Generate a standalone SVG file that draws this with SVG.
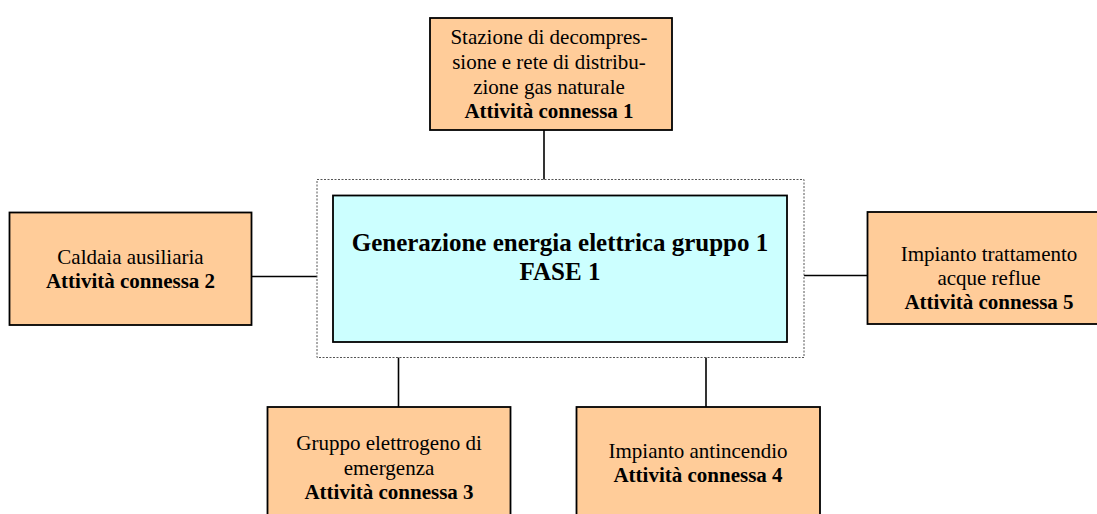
<svg xmlns="http://www.w3.org/2000/svg" width="1097" height="514" viewBox="0 0 1097 514">
<style>
.box{fill:#FFCC99;stroke:#000;stroke-width:1.8}
.main{fill:#CCFFFF;stroke:#000;stroke-width:1.8}
.frame{fill:none;stroke:#555;stroke-width:1;stroke-dasharray:2 1.5}
.t{font-family:"Liberation Serif","Times New Roman",serif;font-size:21px;fill:#000;text-anchor:middle}
.b{font-weight:bold}
.tm{font-family:"Liberation Serif","Times New Roman",serif;font-size:25px;font-weight:bold;fill:#000;text-anchor:middle}
.c{stroke:#000;stroke-width:1.6;fill:none}
</style>
<rect width="1097" height="514" fill="#fff"/>
<g id="connectors">
<line class="c" x1="544" y1="130" x2="544" y2="179.5"/>
<line class="c" x1="251.5" y1="276.5" x2="317" y2="276.5"/>
<line class="c" x1="804" y1="275.5" x2="867.5" y2="275.5"/>
<line class="c" x1="398.5" y1="357.5" x2="398.5" y2="407"/>
<line class="c" x1="706" y1="357.5" x2="706" y2="407"/>
</g>
<g id="main">
<rect class="frame" x="317" y="179.5" width="487" height="178"/>
<rect class="main" x="333" y="195.5" width="454" height="146.5"/>
<text class="tm" x="560" y="251">Generazione energia elettrica gruppo 1</text>
<text class="tm" x="560" y="279.5">FASE 1</text>
</g>
<g id="att1">
<rect class="box" x="430" y="18" width="242" height="112"/>
<text class="t" x="549" y="44">Stazione di decompres-</text>
<text class="t" x="549" y="69">sione e rete di distribu-</text>
<text class="t" x="549" y="93.5">zione gas naturale</text>
<text class="t b" x="549" y="118">Attività connessa 1</text>
</g>
<g id="att2">
<rect class="box" x="9.5" y="212.5" width="242" height="112.5"/>
<text class="t" x="130.5" y="264">Caldaia ausiliaria</text>
<text class="t b" x="130.5" y="288">Attività connessa 2</text>
</g>
<g id="att5">
<rect class="box" x="867.5" y="212" width="244" height="112"/>
<text class="t" x="989" y="261">Impianto trattamento</text>
<text class="t" x="989" y="285">acque reflue</text>
<text class="t b" x="989" y="309">Attività connessa 5</text>
</g>
<g id="att3">
<rect class="box" x="267.5" y="407" width="243" height="120"/>
<text class="t" x="389" y="450">Gruppo elettrogeno di</text>
<text class="t" x="389" y="474.5">emergenza</text>
<text class="t b" x="389" y="498.5">Attività connessa 3</text>
</g>
<g id="att4">
<rect class="box" x="576.5" y="407" width="243.5" height="120"/>
<text class="t" x="698" y="458">Impianto antincendio</text>
<text class="t b" x="698" y="482">Attività connessa 4</text>
</g>
</svg>
